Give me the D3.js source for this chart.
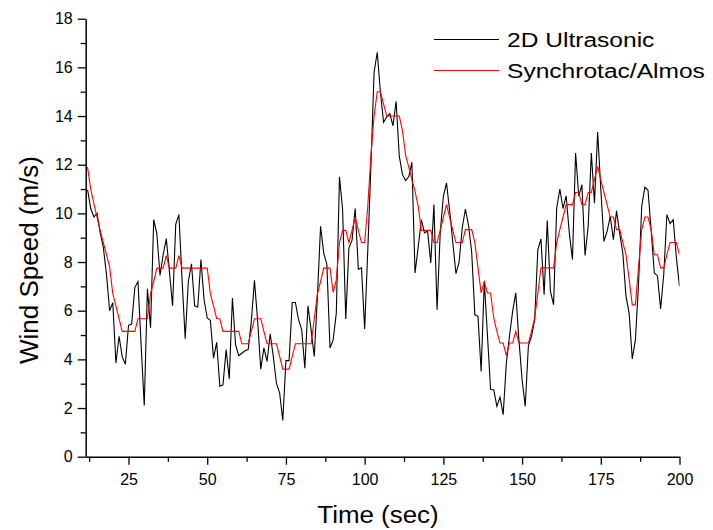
<!DOCTYPE html>
<html>
<head>
<meta charset="utf-8">
<script src="https://cdn.jsdelivr.net/npm/d3@7"></script>
<style>
  body { margin: 0; background: #fff; }
  text { font-family: "Liberation Sans", Arial, sans-serif; fill: #000; }
</style>
</head>
<body>
<svg id="chart" width="713" height="530"></svg>
<script>
// 2D ultrasonic anemometer, one sample per second starting at t = 12 s
const ultrasonicStart = 12;
const ultrasonic = [
  10.97, 10.2, 9.85, 10.0, 9.2, 8.6, 7.5, 6.0, 6.33, 3.85,
  4.95, 4.1, 3.8, 5.4, 5.45, 6.95, 7.2, 4.6, 2.1, 6.9,
  5.3, 9.74, 9.16, 7.45, 8.3, 8.96, 7.6, 6.2, 9.55, 9.95,
  7.3, 4.85, 7.2, 7.93, 6.2, 6.15, 8.1, 6.45, 5.7, 5.6,
  4.05, 4.7, 2.9, 2.95, 4.4, 3.2, 6.52, 4.6, 4.15, 4.25,
  4.35, 4.4, 5.56, 7.25, 5.6, 3.6, 4.47, 3.92, 5.05, 4.1,
  3.0, 2.62, 1.49, 3.95, 3.95, 6.34, 6.34, 5.63, 5.22, 3.64,
  6.2, 5.2, 4.12, 6.6, 9.47, 8.37, 7.9, 4.47, 4.8, 5.9,
  11.5, 10.15, 5.66, 8.57, 8.9, 10.2, 7.7, 7.76, 5.25, 8.5,
  12.0, 15.8, 16.62, 15.0, 13.74, 13.96, 14.1, 13.6, 14.6, 12.35,
  11.6, 11.35, 11.5, 12.1, 7.55, 8.6, 9.74, 9.2, 9.27, 7.96,
  10.36, 6.04, 9.2, 10.7, 11.25, 10.1, 8.8, 7.52, 8.0, 9.4,
  10.18, 9.5, 8.4, 5.83, 5.77, 3.5, 7.2, 5.0, 2.76, 2.75,
  2.07, 2.45, 1.73, 3.85, 4.95, 5.97, 6.73, 4.8, 3.17, 2.07,
  4.55, 4.95, 5.63, 8.5, 8.95, 6.66, 9.71, 6.8, 6.25, 10.22,
  11.0, 10.2, 10.72, 9.2, 8.1, 12.48, 10.7, 11.18, 8.27, 9.47,
  12.48, 10.42, 13.34, 11.0, 8.85, 9.26, 9.88, 8.92, 10.1, 9.19,
  8.36, 6.6, 5.9, 4.02, 4.81, 7.14, 10.29, 11.08, 10.95, 9.3,
  7.55, 7.44, 6.07, 7.5, 9.95, 9.58, 9.74, 8.2, 7.0
];

// Synchrotac/Almos cup anemometer, one sample per second starting at t = 11 s
const synchrotacStart = 11;
const synchrotac = [
  11.88, 11.88, 11.0, 10.4, 9.85, 9.3, 8.8, 8.3, 7.8, 6.7,
  6.2, 5.67, 5.15, 5.15, 5.15, 5.15, 5.15, 5.67, 5.67, 5.67,
  5.67, 6.7, 7.2, 7.75, 7.75, 7.75, 8.26, 7.75, 7.75, 7.75,
  8.26, 7.75, 7.75, 7.75, 7.75, 7.75, 7.75, 7.75, 7.75, 7.75,
  6.7, 6.2, 5.67, 5.67, 5.15, 5.15, 5.15, 5.15, 5.15, 5.15,
  4.64, 4.64, 4.64, 5.15, 5.67, 5.67, 5.67, 5.15, 4.64, 4.64,
  4.64, 4.64, 4.12, 3.6, 3.6, 3.6, 4.12, 4.64, 4.64, 4.64,
  4.64, 4.64, 4.64, 5.67, 6.7, 7.2, 7.75, 7.75, 7.75, 6.75,
  7.27, 8.8, 9.3, 9.3, 8.8, 9.3, 9.84, 9.3, 8.8, 8.8,
  10.3, 12.4, 14.0, 15.0, 15.0, 14.5, 14.0, 14.0, 14.0, 14.0,
  14.0, 13.4, 12.4, 11.9, 11.4, 10.9, 10.3, 9.3, 9.3, 9.3,
  9.3, 8.8, 8.8, 9.3, 9.84, 10.36, 9.84, 9.3, 8.8, 8.8,
  8.8, 9.33, 9.33, 9.33, 8.8, 7.76, 6.73, 7.2, 6.73, 6.73,
  5.7, 5.15, 4.67, 4.67, 4.15, 4.67, 4.67, 5.15, 4.67, 4.67,
  4.67, 4.67, 5.15, 5.7, 6.7, 7.76, 7.76, 7.76, 7.76, 7.76,
  8.8, 9.33, 9.84, 10.36, 10.36, 10.36, 10.86, 10.86, 10.36, 10.36,
  10.86, 10.86, 11.4, 11.93, 11.4, 10.86, 10.36, 9.85, 9.85, 9.33,
  9.33, 8.8, 8.3, 7.3, 6.24, 6.24, 7.8, 9.33, 9.85, 9.85,
  9.33, 8.3, 8.3, 7.76, 7.76, 8.3, 8.8, 8.8, 8.8, 8.3
];

const seriesNames = ["2D Ultrasonic", "Synchrotac/Almos"];
const seriesColors = ["#000000", "#ff0000"];

const xMajorTicks = [25, 50, 75, 100, 125, 150, 175, 200];
const xMinorTicks = [12.5, 37.5, 62.5, 87.5, 112.5, 137.5, 162.5, 187.5];
const yMajorTicks = [0, 2, 4, 6, 8, 10, 12, 14, 16, 18];
const yMinorTicks = [1, 3, 5, 7, 9, 11, 13, 15, 17];

const xTitle = "Time (sec)";
const yTitle = "Wind Speed (m/s)";

const svg = d3.select("#chart");
const x = d3.scaleLinear().domain([11.4, 200]).range([85.7, 679.5]);
const y = d3.scaleLinear().domain([0, 18]).range([456.7, 18.7]);

const toPoints = (vals, t0) => vals.map((v, i) => ({ t: t0 + i, v }));
const series = [
  { name: seriesNames[0], color: seriesColors[0], pts: toPoints(ultrasonic, ultrasonicStart) },
  { name: seriesNames[1], color: seriesColors[1], pts: toPoints(synchrotac, synchrotacStart) }
];

// clip data to the plotting region
svg.append("defs").append("clipPath").attr("id", "plot-clip")
  .append("rect")
  .attr("x", x.range()[0]).attr("y", y.range()[1])
  .attr("width", x.range()[1] - x.range()[0])
  .attr("height", y.range()[0] - y.range()[1]);

const line = d3.line().x(d => x(d.t)).y(d => y(d.v));

const plot = svg.append("g").attr("clip-path", "url(#plot-clip)");
plot.selectAll("path.series")
  .data(series)
  .join("path")
  .attr("class", "series")
  .attr("fill", "none")
  .attr("stroke", d => d.color)
  .attr("stroke-width", 1.1)
  .attr("stroke-linejoin", "miter")
  .attr("d", d => line(d.pts));

// axes
function styleAxis(g) {
  g.select(".domain").attr("stroke", "#000").attr("stroke-width", 1.5);
  g.selectAll(".tick line").attr("stroke", "#000").attr("stroke-width", 1.3);
}

const xAxisG = svg.append("g").attr("transform", `translate(0,${y(0)})`);
xAxisG.call(d3.axisBottom(x).tickValues(xMajorTicks).tickSize(8).tickSizeOuter(0).tickPadding(9))
  .call(styleAxis)
  .call(g => g.selectAll(".tick text").attr("font-size", 16).attr("font-family", null));
xAxisG.append("g")
  .call(d3.axisBottom(x).tickValues(xMinorTicks).tickSize(5).tickFormat(""))
  .call(g => g.select(".domain").remove())
  .call(styleAxis);

const yAxisG = svg.append("g").attr("transform", `translate(${x(11.4)},0)`);
yAxisG.call(d3.axisLeft(y).tickValues(yMajorTicks).tickSize(8).tickSizeOuter(0).tickPadding(5))
  .call(styleAxis)
  .call(g => g.selectAll(".tick text").attr("font-size", 16).attr("font-family", null));
yAxisG.append("g")
  .call(d3.axisLeft(y).tickValues(yMinorTicks).tickSize(5).tickFormat(""))
  .call(g => g.select(".domain").remove())
  .call(styleAxis);

// axis titles
svg.append("text")
  .attr("transform", "translate(378,523) scale(1.08,1)")
  .attr("text-anchor", "middle")
  .attr("font-size", 24)
  .text(xTitle);

svg.append("text")
  .attr("transform", "translate(38,260) rotate(-90)")
  .attr("text-anchor", "middle")
  .attr("font-size", 26)
  .text(yTitle);

// legend
const legend = svg.append("g");
series.forEach((s, i) => {
  const ly = 39.5 + i * 31;
  legend.append("line")
    .attr("x1", 434).attr("x2", 499)
    .attr("y1", ly).attr("y2", ly)
    .attr("stroke", s.color).attr("stroke-width", 1.1);
  legend.append("text")
    .attr("transform", `translate(507,${ly + 7.5}) scale(1.17,1)`)
    .attr("font-size", 21)
    .text(s.name);
});
</script>
</body>
</html>
